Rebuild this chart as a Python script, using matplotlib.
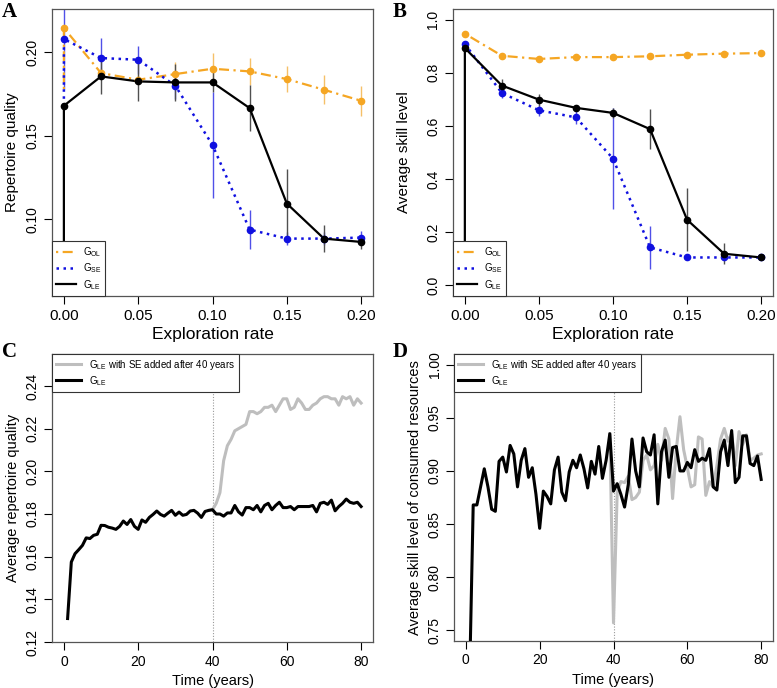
import numpy as np
import matplotlib
matplotlib.use("Agg")
import matplotlib.pyplot as plt
from matplotlib.lines import Line2D

plt.rcParams['font.family'] = ['Liberation Sans', 'DejaVu Sans']
plt.rcParams['mathtext.fontset'] = 'custom'
plt.rcParams['mathtext.rm'] = 'Liberation Sans'

# exploration rates (panels A, B)
rate = [0, 0.025, 0.05, 0.075, 0.1, 0.125, 0.15, 0.175, 0.2]

# panel A: repertoire quality
qual_ol = [0.2146, 0.1876, 0.1836, 0.187, 0.1902, 0.1886, 0.184, 0.1776, 0.171]
qual_ol_err = [0.0, 0.003, 0.003, 0.007, 0.0093, 0.008, 0.008, 0.0087, 0.009]
qual_se = [0.208, 0.1966, 0.1956, 0.180, 0.1445, 0.0938, 0.0884, 0.0884, 0.089]
qual_se_err = [0.03, 0.012, 0.0085, 0.008, 0.032, 0.0115, 0.004, 0.004, 0.004]
qual_le = [0.168, 0.1856, 0.1826, 0.182, 0.182, 0.1666, 0.1094, 0.0884, 0.0864]
qual_le_err = [0.0, 0.0105, 0.0117, 0.011, 0.006, 0.014, 0.021, 0.008, 0.004]
qual_start = [0.178, 0.168, 0.0]   # lines begin lower at rate 0

# panel B: average skill level
skill_ol = [0.947, 0.864, 0.852, 0.859, 0.859, 0.862, 0.868, 0.872, 0.874]
skill_ol_err = [0.01, 0.01, 0.01, 0.008, 0.008, 0.008, 0.008, 0.008, 0.008]
skill_se = [0.908, 0.724, 0.659, 0.632, 0.477, 0.143, 0.105, 0.105, 0.105]
skill_se_err = [0.01, 0.02, 0.02, 0.025, 0.19, 0.08, 0.008, 0.008, 0.006]
skill_le = [0.893, 0.752, 0.699, 0.668, 0.649, 0.588, 0.247, 0.119, 0.105]
skill_le_err = [0.0, 0.024, 0.023, 0.01, 0.02, 0.075, 0.119, 0.04, 0.006]
skill_start = [None, None, 0.0]

# panels C, D: time series
years = np.arange(1, 81)
years_se = np.arange(39, 81)

rep_le = [0.131, 0.1575, 0.1614, 0.1633, 0.1653, 0.1688, 0.1685, 0.170, 0.1705, 0.1747,
          0.1746, 0.1738, 0.1734, 0.1728, 0.1742, 0.1767, 0.1751, 0.1774, 0.1742, 0.1728,
          0.1772, 0.1761, 0.1784, 0.1798, 0.1814, 0.1798, 0.179, 0.1804, 0.1817, 0.1794,
          0.1809, 0.1794, 0.1798, 0.1814, 0.1817, 0.1804, 0.1784, 0.1812, 0.1817, 0.182,
          0.180, 0.180, 0.179, 0.1805, 0.1805, 0.184, 0.181, 0.1795, 0.183, 0.183,
          0.182, 0.184, 0.181, 0.184, 0.185, 0.182, 0.184, 0.1855, 0.183, 0.183,
          0.1835, 0.182, 0.1835, 0.1835, 0.1835, 0.1835, 0.184, 0.181, 0.185, 0.1855,
          0.1845, 0.1865, 0.1815, 0.1835, 0.185, 0.187, 0.1855, 0.185, 0.1855, 0.1835]
rep_se = [0.1817, 0.182, 0.185, 0.19, 0.205, 0.212, 0.215, 0.219, 0.220, 0.221, 0.222,
          0.228, 0.228, 0.227, 0.228, 0.230, 0.230, 0.231, 0.228, 0.231, 0.234, 0.234,
          0.229, 0.230, 0.234, 0.232, 0.229, 0.229, 0.231, 0.232, 0.234, 0.235, 0.235,
          0.234, 0.234, 0.231, 0.235, 0.234, 0.235, 0.231, 0.234, 0.232]

res_le = [0.70, 0.868, 0.868, 0.885, 0.902, 0.885, 0.864, 0.862, 0.909, 0.913,
          0.899, 0.924, 0.916, 0.885, 0.910, 0.921, 0.894, 0.903, 0.878, 0.846,
          0.881, 0.876, 0.869, 0.901, 0.913, 0.880, 0.872, 0.899, 0.910, 0.903,
          0.915, 0.902, 0.884, 0.909, 0.897, 0.923, 0.893, 0.910, 0.935, 0.881,
          0.888, 0.878, 0.866, 0.887, 0.930, 0.900, 0.885, 0.931, 0.918, 0.915,
          0.934, 0.869, 0.918, 0.929, 0.894, 0.922, 0.923, 0.900, 0.900, 0.908,
          0.903, 0.920, 0.909, 0.912, 0.910, 0.921, 0.885, 0.882, 0.918, 0.929,
          0.905, 0.938, 0.889, 0.894, 0.933, 0.933, 0.907, 0.905, 0.914, 0.892]
res_se = [0.935, 0.757, 0.880, 0.890, 0.889, 0.895, 0.873, 0.875, 0.880, 0.910, 0.915,
          0.901, 0.905, 0.925, 0.910, 0.940, 0.930, 0.874, 0.920, 0.951, 0.920, 0.903,
          0.885, 0.887, 0.932, 0.930, 0.877, 0.890, 0.885, 0.905, 0.930, 0.940, 0.928,
          0.935, 0.905, 0.937, 0.925, 0.934, 0.910, 0.912, 0.915, 0.916]

W, H = 777, 688
fig = plt.figure(figsize=(W / 100, H / 100), dpi=100)


def px_axes(l, t, r, b):
    return fig.add_axes([l / W, 1 - b / H, (r - l) / W, (b - t) / H])


def r_style(ax, xsize, ysize):
    ax.tick_params(direction='out', length=6, width=0.8, colors='black', pad=3)
    ax.tick_params(axis='x', labelsize=xsize)
    ax.tick_params(axis='y', labelsize=ysize)
    for lab in ax.get_yticklabels():
        lab.set_rotation(90)
        lab.set_va('center')
    for s in ax.spines.values():
        s.set_color('#555555')
        s.set_linewidth(0.9)


ORANGE = '#F5A623'
BLUE = '#1010E0'
styles = [
    dict(color=ORANGE, dashes=(1, 2, 4.5, 2), lw=1.6, ecolor='#F5C068'),
    dict(color=BLUE, dashes=(1, 1.8), lw=1.8, ecolor='#5050E8'),
    dict(color='black', dashes=(), lw=1.6, ecolor='#505050'),
]
labels_ab = [r'G$_{\mathregular{OL}}$', r'G$_{\mathregular{SE}}$', r'G$_{\mathregular{LE}}$']


def draw_rate_panel(ax, series, starts):
    for (y, err), st, start in zip(series, styles, starts):
        ax.vlines(rate, np.array(y) - np.array(err), np.array(y) + np.array(err),
                  color=st['ecolor'], lw=1.0, zorder=2)
        xs, ys = list(rate), list(y)
        if start is not None:
            xs, ys = [0] + xs, [start] + ys
        line, = ax.plot(xs, ys, color=st['color'], lw=st['lw'], zorder=3)
        if st['dashes']:
            line.set_dashes(st['dashes'])
        ax.plot(rate, y, 'o', color=st['color'], ms=4.5, zorder=4)
    handles = []
    for st in styles:
        h = Line2D([], [], color=st['color'], lw=st['lw'])
        if st['dashes']:
            h.set_dashes(st['dashes'])
        handles.append(h)
    leg = ax.legend(handles, labels_ab, loc='lower left', borderaxespad=0, fontsize=7,
                    fancybox=False, edgecolor='#333333', framealpha=1, handlelength=2.0,
                    labelspacing=0.25, borderpad=0.45, handletextpad=0.7)
    leg.get_frame().set_linewidth(0.8)
    leg.set_zorder(10)
    ax.set_xlim(-0.008, 0.208)
    ax.set_xticks([0, 0.05, 0.1, 0.15, 0.2])
    ax.set_xticklabels(['0.00', '0.05', '0.10', '0.15', '0.20'])
    ax.set_xlabel('Exploration rate', fontsize=12.5, labelpad=3)


axA = px_axes(52, 9, 373, 296)
draw_rate_panel(axA, [(qual_ol, qual_ol_err), (qual_se, qual_se_err), (qual_le, qual_le_err)], qual_start)
axA.set_ylim(0.054, 0.226)
axA.set_yticks([0.10, 0.15, 0.20])
axA.set_yticklabels(['0.10', '0.15', '0.20'])
axA.set_ylabel('Repertoire quality', fontsize=11, labelpad=5)
r_style(axA, 11, 10)

axB = px_axes(453, 9, 773, 296)
draw_rate_panel(axB, [(skill_ol, skill_ol_err), (skill_se, skill_se_err), (skill_le, skill_le_err)], skill_start)
axB.set_ylim(-0.04, 1.04)
axB.set_yticks([0, 0.2, 0.4, 0.6, 0.8, 1.0])
axB.set_yticklabels(['0.0', '0.2', '0.4', '0.6', '0.8', '1.0'])
axB.set_ylabel('Average skill level', fontsize=11, labelpad=11)
r_style(axB, 11, 10)

labels_cd = [r'G$_{\mathregular{LE}}$ with SE added after 40 years', r'G$_{\mathregular{LE}}$']


def draw_time_panel(ax, y_le, y_se):
    ax.axvline(40, color='#999999', lw=0.8, ls=(0, (1, 1.5)), zorder=1)
    g, = ax.plot(years_se, y_se, color='#BEBEBE', lw=2.2, zorder=2)
    b, = ax.plot(years, y_le, color='black', lw=2.2, zorder=3)
    leg = ax.legend([g, b], labels_cd, loc='upper left', borderaxespad=0, fontsize=7,
                    fancybox=False, edgecolor='#333333', framealpha=1, handlelength=2.6,
                    labelspacing=0.2, borderpad=0.4, handletextpad=0.8)
    leg.get_frame().set_linewidth(0.8)
    leg.set_zorder(10)
    ax.set_xlim(-3.2, 83.2)
    ax.set_xticks([0, 20, 40, 60, 80])
    ax.set_xlabel('Time (years)', fontsize=10.5, labelpad=4)


axC = px_axes(52, 354, 373, 642)
draw_time_panel(axC, rep_le, rep_se)
axC.set_ylim(0.12, 0.255)
axC.set_yticks([0.12, 0.14, 0.16, 0.18, 0.20, 0.22, 0.24])
axC.set_yticklabels(['0.12', '0.14', '0.16', '0.18', '0.20', '0.22', '0.24'])
axC.set_ylabel('Average repertoire quality', fontsize=10.5, labelpad=4)
r_style(axC, 10, 10)

axD = px_axes(454, 354, 773, 641)
draw_time_panel(axD, res_le, res_se)
axD.set_ylim(0.74, 1.01)
axD.set_yticks([0.75, 0.80, 0.85, 0.90, 0.95, 1.00])
axD.set_yticklabels(['0.75', '0.80', '0.85', '0.90', '0.95', '1.00'])
axD.set_ylabel('Average skill level of consumed resources', fontsize=10.5, labelpad=4)
r_style(axD, 10, 10)

for txt, x, y in [('A', 2, 2), ('B', 393, 2), ('C', 2, 342), ('D', 393, 342)]:
    fig.text(x / W, 1 - y / H, txt, fontsize=15, fontweight='bold',
             family='Liberation Serif', ha='left', va='top')

fig.savefig('out.png', dpi=100)
